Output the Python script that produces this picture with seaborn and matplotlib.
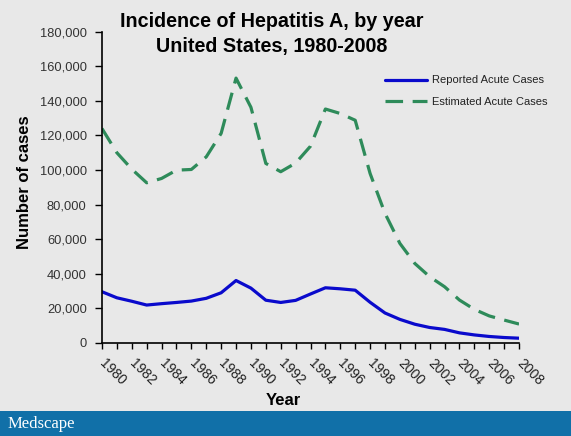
import matplotlib
matplotlib.use("Agg")
import matplotlib.pyplot as plt
import seaborn as sns
import pandas as pd
from matplotlib.patches import Rectangle

years = list(range(1980, 2009))
reported = [29500, 26000, 24000, 21800, 22600, 23300, 24100, 25700, 28900, 36000,
            31600, 24600, 23300, 24500, 28200, 31800, 31200, 30400, 23400, 17200,
            13500, 10700, 8800, 7700, 5700, 4500, 3600, 3000, 2600]
estimated = [124000, 110000, 100500, 92600, 95100, 99900, 100300, 107600, 121200, 153200,
             136300, 103800, 99000, 104000, 113800, 135300, 132700, 128800, 98000, 74900,
             57500, 45900, 38200, 32400, 24700, 19300, 15500, 13100, 10800]
series_names = ["Reported Acute Cases", "Estimated Acute Cases"]
title_text = "Incidence of Hepatitis A, by year\nUnited States, 1980-2008"
y_ticks = list(range(0, 180001, 20000))

df = pd.DataFrame({"year": years, series_names[0]: reported, series_names[1]: estimated})

sns.set_theme(style="ticks")
plt.rcParams["font.family"] = ["Liberation Sans", "DejaVu Sans"]

bg = "#E8E8E8"
fig = plt.figure(figsize=(5.71, 4.36), dpi=100, facecolor=bg)
ax = fig.add_axes([0.1786, 0.214, 0.909 - 0.1786, 0.927 - 0.214])
ax.set_facecolor(bg)

sns.lineplot(data=df, x="year", y=series_names[0], ax=ax, color="#0A0ACC",
             linewidth=2.3, label=series_names[0])
sns.lineplot(data=df, x="year", y=series_names[1], ax=ax, color="#2E8B5A",
             linewidth=2.3, label=series_names[1])
ax.lines[1].set_dashes((5.5, 3))

ax.set_xlim(1980, 2008)
ax.set_ylim(0, 180000)
ax.set_yticks(y_ticks)
ax.set_yticklabels([f"{v:,}" for v in y_ticks], fontsize=9.3, color="#333333")
ax.set_xticks(years)
ax.set_xticklabels([str(y) if y % 2 == 0 else "" for y in years], fontsize=10,
                   color="#222222", rotation=-45, ha="left", va="center",
                   rotation_mode="anchor")
ax.tick_params(axis="x", length=4, width=1, color="black", pad=9)
ax.tick_params(axis="y", length=5, width=1, color="black", pad=6)
for s in ["top", "right"]:
    ax.spines[s].set_visible(False)
for s in ["left", "bottom"]:
    ax.spines[s].set_color("black")
    ax.spines[s].set_linewidth(1.2)

ax.set_xlabel("")
ax.set_ylabel("")
fig.text(25 / 571, 1 - 182 / 436, "Number of cases", rotation=90, fontsize=12,
         fontweight="bold", ha="center", va="center", color="black")
fig.text(283 / 571, 1 - 400 / 436, "Year", fontsize=12, fontweight="bold",
         ha="center", va="center", color="black")
fig.text(272 / 571, 1 - 34 / 436, title_text, fontsize=14.2, fontweight="bold",
         ha="center", va="center", linespacing=1.35, color="black")

leg = ax.legend(loc="upper left", bbox_to_anchor=(0.655, 0.892), frameon=False,
                fontsize=8, handlelength=3.8, handletextpad=0.4, labelspacing=1.0)
for t in leg.get_texts():
    t.set_color("#222222")

fig.patches.append(Rectangle((0, 0), 1, 25 / 436, transform=fig.transFigure,
                             facecolor="#1170A8", edgecolor="none", zorder=0))
fig.text(8 / 571, 12 / 436, "Medscape", fontsize=12, color="white",
         family=["Liberation Serif", "DejaVu Serif"], ha="left", va="center")

fig.savefig("out.png", dpi=100, facecolor=bg)
